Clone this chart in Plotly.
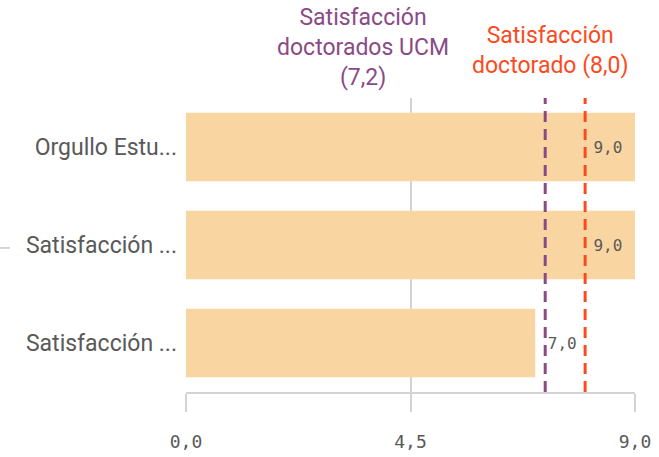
import plotly.graph_objects as go

categories = ["Orgullo Estu...", "Satisfacción ...", "Satisfacción ..."]
values = [9.0, 9.0, 7.0]
ref_values = [7.2, 8.0]
ref_labels = ["Satisfacción<br>doctorados UCM<br>(7,2)", "Satisfacción<br>doctorado (8,0)"]
ref_colors = ["#8b4a86", "#fc4a1e"]
ref_label_x = [0.394, 0.811]
ref_label_y = [1.173, 1.163]
x_ticks = [0.0, 4.5, 9.0]

BAR = "#f9d6a1"
GRAY = "#595959"
GRID = "#d3d3d3"
MONO = "DejaVu Sans Mono"
SANS = "Roboto"
NB = "\u00a0"

ypos = list(range(len(categories)))
inside = [v >= 8.5 for v in values]
positions = ["inside" if i else "outside" for i in inside]
templates = ["%{x:.1f}" + NB if i else NB + "%{x:.1f}" for i in inside]

fig = go.Figure()
fig.add_trace(go.Bar(
    x=values, y=ypos, orientation="h",
    marker=dict(color=BAR, line=dict(width=0)),
    text=values, texttemplate=templates,
    textposition=positions, insidetextanchor="end",
    textfont=dict(family=MONO, size=16, color=GRAY),
    cliponaxis=False, hoverinfo="skip",
))

shapes = []
annotations = []
for v, lab, c, lx, ly in zip(ref_values, ref_labels, ref_colors, ref_label_x, ref_label_y):
    shapes.append(dict(type="line", xref="x", yref="paper", x0=v, x1=v, y0=0, y1=1.0,
                       line=dict(color=c, width=3, dash="11px,7px"), layer="above"))
    annotations.append(dict(text=lab, xref="paper", yref="paper", x=lx, y=ly,
                            xanchor="center", yanchor="middle", showarrow=False,
                            align="center", font=dict(family=SANS, size=23, color=c)))

# small gray mark at far left
shapes.append(dict(type="line", xref="paper", yref="paper", x0=-0.414, x1=-0.392,
                   y0=0.49, y1=0.49, line=dict(color="#c8c8c8", width=1.5)))

fig.update_layout(
    width=659, height=457,
    margin=dict(l=186, r=24, t=98, b=65, autoexpand=False),
    paper_bgcolor="white", plot_bgcolor="white",
    separators=",.",
    bargap=0.3,
    showlegend=False,
    shapes=shapes, annotations=annotations,
    xaxis=dict(range=[0, 9], tickvals=x_ticks, tickformat=".1f", automargin=False,
               showgrid=True, gridcolor=GRID, gridwidth=1.5,
               zeroline=False, showline=True, linecolor=GRID, linewidth=1.5,
               ticks="outside", ticklen=18, tickwidth=1.5, tickcolor=GRID,
               ticklabelstandoff=15,
               tickfont=dict(family=MONO, size=18, color=GRAY)),
    yaxis=dict(range=[len(categories) - 0.5, -0.5], tickvals=ypos, ticktext=categories,
               automargin=False,
               showgrid=False, zeroline=False, showline=False, ticks="",
               ticklabelstandoff=8,
               tickfont=dict(family=SANS, size=23, color=GRAY)),
)

fig.write_html("out.html", config={"displayModeBar": False},
               post_script="document.body.style.margin='0';")
